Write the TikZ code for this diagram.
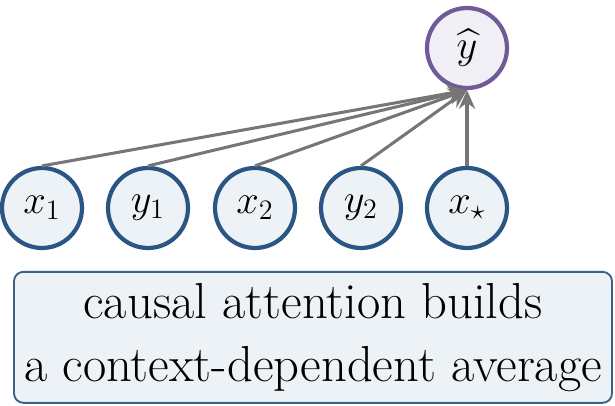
\documentclass[tikz,border=0pt]{standalone}
\usepackage{amsmath}
\usepackage{amssymb}
\usepackage{xcolor}
\usepackage{tikz}
\usetikzlibrary{arrows.meta, positioning}

\definecolor{tokblue}{HTML}{2B5683}
\definecolor{tokfill}{HTML}{EDF2F6}
\definecolor{outpurple}{HTML}{6F5B98}
\definecolor{outfill}{HTML}{F0EFF5}
\definecolor{boxedge}{HTML}{3C6185}
\definecolor{edgegray}{HTML}{767676}

\begin{document}
\begin{tikzpicture}[
  token/.style={circle, draw=tokblue, line width=1.8pt, fill=tokfill,
                minimum size=1.2cm, inner sep=0pt, font=\LARGE},
  output/.style={token, draw=outpurple, fill=outfill},
  note/.style={rectangle, draw=boxedge, line width=0.8pt, rounded corners=4pt,
               fill=tokfill, minimum width=8.97cm, minimum height=1.965cm,
               align=center, font=\fontsize{21.6}{27}\selectfont},
  arrow/.style={-{Stealth[length=8pt,width=7pt]}, line width=1.3pt, edgegray}
]
\useasboundingbox (0,0) rectangle (9.225,6.09);

\node[token] (x1) at (0.63,2.97)  {$x_1$};
\node[token] (y1) at (2.22,2.97)  {$y_1$};
\node[token] (x2) at (3.825,2.97) {$x_2$};
\node[token] (y2) at (5.415,2.97) {$y_2$};
\node[token] (xs) at (7.005,2.97) {$x_\star$};
\node[output] (yh) at (7.005,5.37) {$\widehat{y}$};

\node[note] (msg) at (4.695,1.03) {causal attention builds\\a context-dependent average};

\foreach \n in {x1,y1,x2,y2,xs}
  \draw[arrow] (\n.north) -- (yh.south);
\end{tikzpicture}
\end{document}
